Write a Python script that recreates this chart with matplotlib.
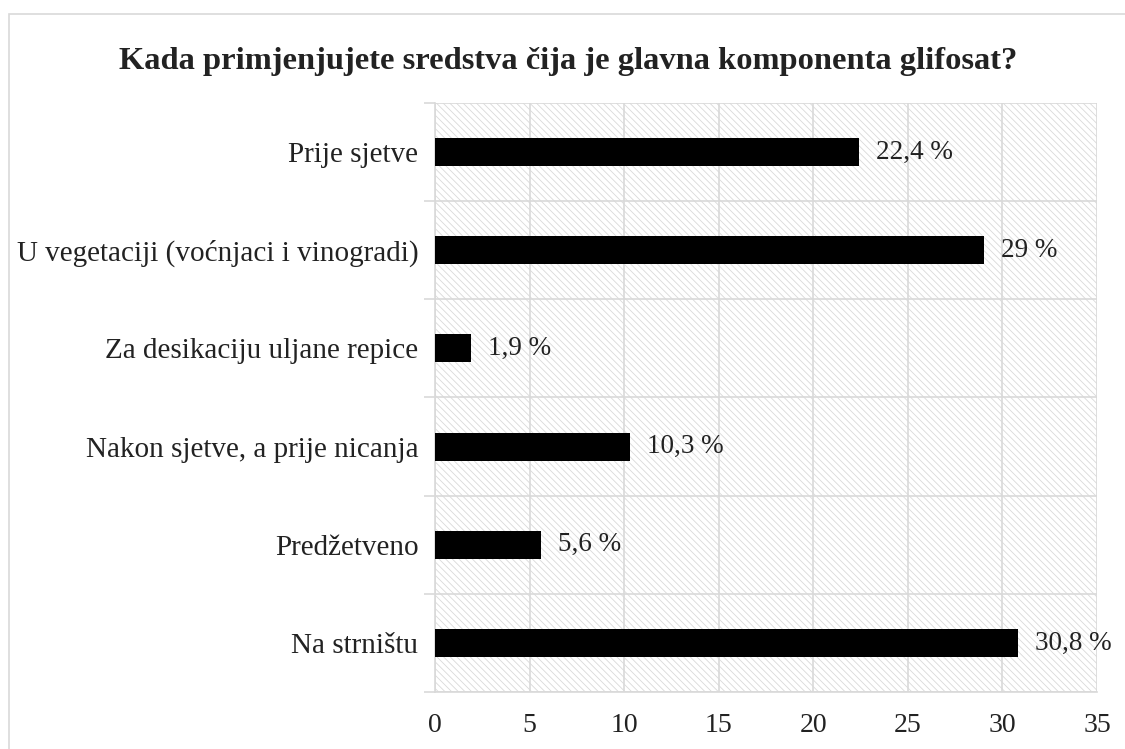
import matplotlib.pyplot as plt
import numpy as np
from matplotlib.patches import Rectangle

categories = ['Prije sjetve', 'U vegetaciji (voćnjaci i vinogradi)', 'Za desikaciju uljane repice',
              'Nakon sjetve, a prije nicanja', 'Predžetveno', 'Na strništu']
values = [22.4, 29, 1.9, 10.3, 5.6, 30.8]
value_labels = ['22,4 %', '29 %', '1,9 %', '10,3 %', '5,6 %', '30,8 %']
xticks = [0, 5, 10, 15, 20, 25, 30, 35]

plt.rcParams['font.family'] = ['Liberation Serif', 'DejaVu Serif']
plt.rcParams['hatch.color'] = '#d6d6d6'
plt.rcParams['hatch.linewidth'] = 0.6

grid_col = '#d9d9d9'
txt_col = '#222222'

fig = plt.figure(figsize=(11.25, 7.49), dpi=100)
ax = fig.add_axes([0.3867, 0.0761, 0.5884, 0.7864])

# outer chart frame
fig.patches.append(Rectangle((9 / 1125, -0.1), 1.2, 1 - 14 / 749 + 0.1, transform=fig.transFigure,
                             fill=False, edgecolor=grid_col, lw=1.2))

# hatched plot background
ax.add_patch(Rectangle((0, 0), 1, 1, transform=ax.transAxes, facecolor='white',
                       edgecolor=grid_col, hatch='\\\\\\\\\\', lw=0, zorder=0))

y = np.arange(len(categories))
ax.barh(y, values, height=0.285, color='black', zorder=3)
for yi, v, lab in zip(y, values, value_labels):
    ax.text(v + 0.9, yi, lab, va='center', ha='left', fontsize=19.5, color=txt_col, zorder=4)

ax.set_xlim(0, 35)
ax.set_ylim(len(categories) - 0.5, -0.5)
ax.set_xticks(xticks)
ax.set_xticklabels([str(t) for t in xticks], fontsize=20, color=txt_col)
ax.set_yticks(y)
ax.set_yticklabels(categories, fontsize=21, color=txt_col)
ax.set_yticks(np.arange(len(categories) + 1) - 0.5, minor=True)

ax.tick_params(axis='x', length=0, pad=15)
ax.tick_params(axis='y', which='major', length=0, pad=12)
ax.tick_params(axis='y', which='minor', length=8, color=grid_col, width=1.2)

ax.grid(True, axis='x', color=grid_col, lw=1.2, zorder=1)
ax.grid(True, axis='y', which='minor', color=grid_col, lw=1.2, zorder=1)
ax.set_axisbelow(True)

for s in ['top', 'right']:
    ax.spines[s].set_visible(False)
for s in ['left', 'bottom']:
    ax.spines[s].set_color(grid_col)
    ax.spines[s].set_linewidth(1.2)

fig.text(0.505, 0.918, 'Kada primjenjujete sredstva čija je glavna komponenta glifosat?',
         ha='center', va='center', fontsize=23.4, fontweight='bold', color=txt_col)

fig.savefig('out.png', dpi=100)
